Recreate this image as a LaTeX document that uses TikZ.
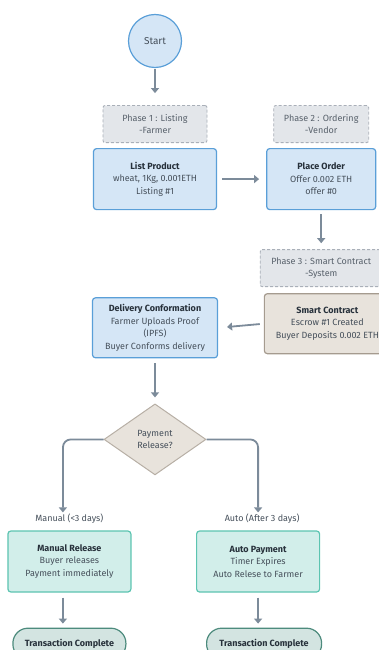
\documentclass[tikz,border=0pt]{standalone}
\usepackage{fontspec}
\setmainfont{Fira Sans}
\usetikzlibrary{arrows.meta, positioning, shapes.geometric, calc}
\definecolor{inkDark}{HTML}{27313B}
\definecolor{inkGrey}{HTML}{46505B}
\definecolor{phaseBg}{HTML}{E3E6EA}
\definecolor{phaseBorder}{HTML}{A9AFB8}
\definecolor{blueBg}{HTML}{D5E6F6}
\definecolor{blueBorder}{HTML}{5A9FD8}
\definecolor{sandBg}{HTML}{E8E3DC}
\definecolor{sandBorder}{HTML}{A59B8F}
\definecolor{tealBg}{HTML}{D2EEEA}
\definecolor{tealBorder}{HTML}{5CC4B1}
\definecolor{doneBg}{HTML}{D3E4E1}
\definecolor{doneBorder}{HTML}{4D8B7D}
\definecolor{arrowGrey}{HTML}{7C8B9A}

\begin{document}
\begin{tikzpicture}[x=1pt, y=-1pt,
  every node/.style={font=\fontsize{9}{12.5}\selectfont, text=inkGrey},
  startnode/.style={
    circle, draw=blueBorder, line width=1.2pt, fill=blueBg,
    minimum size=53pt, inner sep=0pt, font=\fontsize{10}{11}\selectfont
  },
  phasebox/.style={
    draw=phaseBorder, line width=0.9pt, dash pattern=on 3pt off 2pt,
    fill=phaseBg, rounded corners=2pt, align=center,
    minimum height=37pt, inner sep=2pt, text=inkGrey!90
  },
  bluebox/.style={
    draw=blueBorder, line width=1.2pt, fill=blueBg, rounded corners=3pt,
    minimum height=61pt, align=center, inner sep=2pt
  },
  sandbox/.style={
    draw=sandBorder, line width=1.2pt, fill=sandBg, rounded corners=3pt,
    minimum height=60pt, align=center, inner sep=2pt
  },
  decision/.style={
    diamond, draw=sandBorder!80, line width=1pt, fill=sandBg, align=center,
    minimum width=102pt, minimum height=71pt, inner sep=0pt
  },
  tealbox/.style={
    draw=tealBorder, line width=1.2pt, fill=tealBg, rounded corners=3pt,
    minimum height=61pt, minimum width=123pt, align=center, inner sep=2pt
  },
  donebox/.style={
    draw=doneBorder, line width=1.2pt, fill=doneBg, rounded corners=15pt,
    minimum height=31pt, align=center, inner sep=2pt,
    font=\fontsize{9}{10}\selectfont\bfseries, text=inkDark
  },
  arrow/.style={-{Triangle[length=5pt, width=8pt]}, line width=1.8pt, draw=arrowGrey},
  branchlabel/.style={inner sep=0pt, text=inkGrey}
]

\useasboundingbox (0,0) rectangle (378,650);

\node[startnode] (start) at (155,41) {Start};

\node[phasebox, minimum width=104pt, below=37pt of start] (phase1) {%
  Phase 1 : Listing\\-Farmer};

\node[bluebox, minimum width=123pt, below=5pt of phase1] (list) {%
  {\bfseries\color{inkDark}List Product}\\
  wheat, 1Kg, 0.001ETH\\
  Listing \#1};

\node[bluebox, minimum width=109pt, right=49pt of list] (order) {%
  {\bfseries\color{inkDark}Place Order}\\
  Offer 0.002 ETH\\
  offer \#0};

\node[phasebox, minimum width=95pt, above=5pt of order] (phase2) {%
  Phase 2 : Ordering\\-Vendor};

\node[phasebox, minimum width=122pt, below=39pt of order] (phase3) {%
  Phase 3 : Smart Contract\\-System};

\node[sandbox, minimum width=126pt, below right=6pt and 4pt of phase3.south west,
  anchor=north west] (contract) {%
  {\bfseries\color{inkDark}Smart Contract}\\
  Escrow \#1 Created\\
  Buyer Deposits 0.002 ETH};

\node[bluebox, minimum width=125pt, minimum height=60pt, below=87pt of list] (delivery) {%
  {\bfseries\color{inkDark}Delivery Conformation}\\
  Farmer Uploads Proof\\
  (IPFS)\\
  Buyer Conforms delivery};

\node[decision, below=45pt of delivery] (pay) {Payment\\Release?};

\node[tealbox, below left=55pt and 23.5pt of pay.south, anchor=north east] (manual) {%
  {\bfseries\color{inkDark}Manual Release}\\
  Buyer releases\\
  Payment immediately};

\node[tealbox, below right=55pt and 41pt of pay.south, anchor=north west] (auto) {%
  {\bfseries\color{inkDark}Auto Payment}\\
  Timer Expires\\
  Auto Relese to Farmer};

\node[branchlabel, above=7pt of manual] (manuallbl) {Manual (<3 days)};
\node[branchlabel, above=7pt of auto, xshift=4pt] (autolbl) {Auto (After 3 days)};

\node[donebox, minimum width=113pt, below=35pt of manual] (done1) {Transaction Complete};
\node[donebox, minimum width=115pt, below=35pt of auto, xshift=6pt] (done2) {Transaction Complete};

\coordinate (mtip) at ($(manual.north)+(-6.5pt,18pt)$);
\coordinate (atip) at ($(auto.north)+(0pt,18pt)$);

% main flow
\draw[arrow, shorten <=1pt, shorten >=12pt] (start) -- (phase1);
\draw[arrow, shorten <=5pt, shorten >=7pt] (list) -- (order);
\draw[arrow, shorten <=4pt, shorten >=6pt] (order) -- (order |- phase3.north);
\draw[arrow, shorten <=4pt, shorten >=9pt] (contract.west) -- (delivery.east);
\draw[arrow, shorten <=5pt, shorten >=6pt] (delivery) -- (pay);

% branches
\draw[arrow, rounded corners=8pt] (pay.west) -| (mtip);
\draw[arrow, rounded corners=8pt] (pay.east) -| (atip);

\draw[arrow, shorten <=5pt, shorten >=4pt]
  ([xshift=-6.5pt]manual.south) -- ([xshift=-6.5pt]manual.south |- done1.north);
\draw[arrow, shorten <=5pt, shorten >=4pt]
  (auto.south) -- (auto.south |- done2.north);

\end{tikzpicture}
\end{document}
